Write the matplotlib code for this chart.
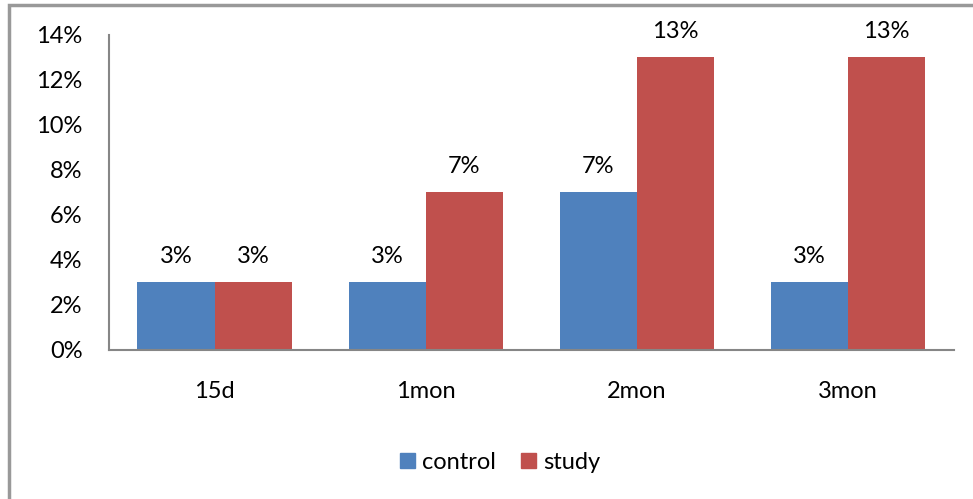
import matplotlib.pyplot as plt
import numpy as np
from matplotlib.patches import Rectangle, Patch

plt.rcParams['font.family'] = ['Lato', 'DejaVu Sans']

categories = ['15d', '1mon', '2mon', '3mon']
control = [3, 3, 7, 3]
study = [3, 7, 13, 13]

blue = '#4F81BD'
red = '#C0504D'
grey = '#868686'

fig = plt.figure(figsize=(9.73, 4.99), dpi=100)
ax = fig.add_axes([0.112, 0.2986, 0.868, 0.6314])

x = np.arange(len(categories))
w = 0.365
b1 = ax.bar(x - w/2, control, w, color=blue, label='control')
b2 = ax.bar(x + w/2, study, w, color=red, label='study')

# value labels above each bar
for bars, vals in [(b1, control), (b2, study)]:
    for bar, v in zip(bars, vals):
        ax.annotate(f'{v}%', (bar.get_x() + bar.get_width()/2, v),
                    xytext=(0, 26), textcoords='offset pixels',
                    ha='center', va='center', fontsize=17)

ax.set_xlim(-0.5, 3.5)
ax.set_ylim(0, 14)
ax.set_yticks(range(0, 15, 2))
ax.set_yticklabels([f'{t}%' for t in range(0, 15, 2)], fontsize=17)
ax.set_xticks(x)
ax.set_xticklabels(categories, fontsize=17)
ax.tick_params(length=0)
ax.tick_params(axis='y', pad=19)
ax.tick_params(axis='x', pad=22)

for s in ['top', 'right']:
    ax.spines[s].set_visible(False)
for s in ['left', 'bottom']:
    ax.spines[s].set_color(grey)
    ax.spines[s].set_linewidth(1.5)

handles = [Patch(color=blue), Patch(color=red)]
fig.legend(handles, ['control', 'study'], loc='center',
           bbox_to_anchor=(0.514, 0.074), ncol=2, frameon=False,
           fontsize=17, handlelength=0.6, handleheight=0.6,
           handletextpad=0.3, columnspacing=1.1)

# outer chart border (clipped at right and bottom)
fig.patches.append(Rectangle((9/973, -0.1), 1.2, 1.1 - 5/499,
                             transform=fig.transFigure, fill=False,
                             edgecolor='#999999', linewidth=2.5))

fig.savefig('out.png', dpi=100)
